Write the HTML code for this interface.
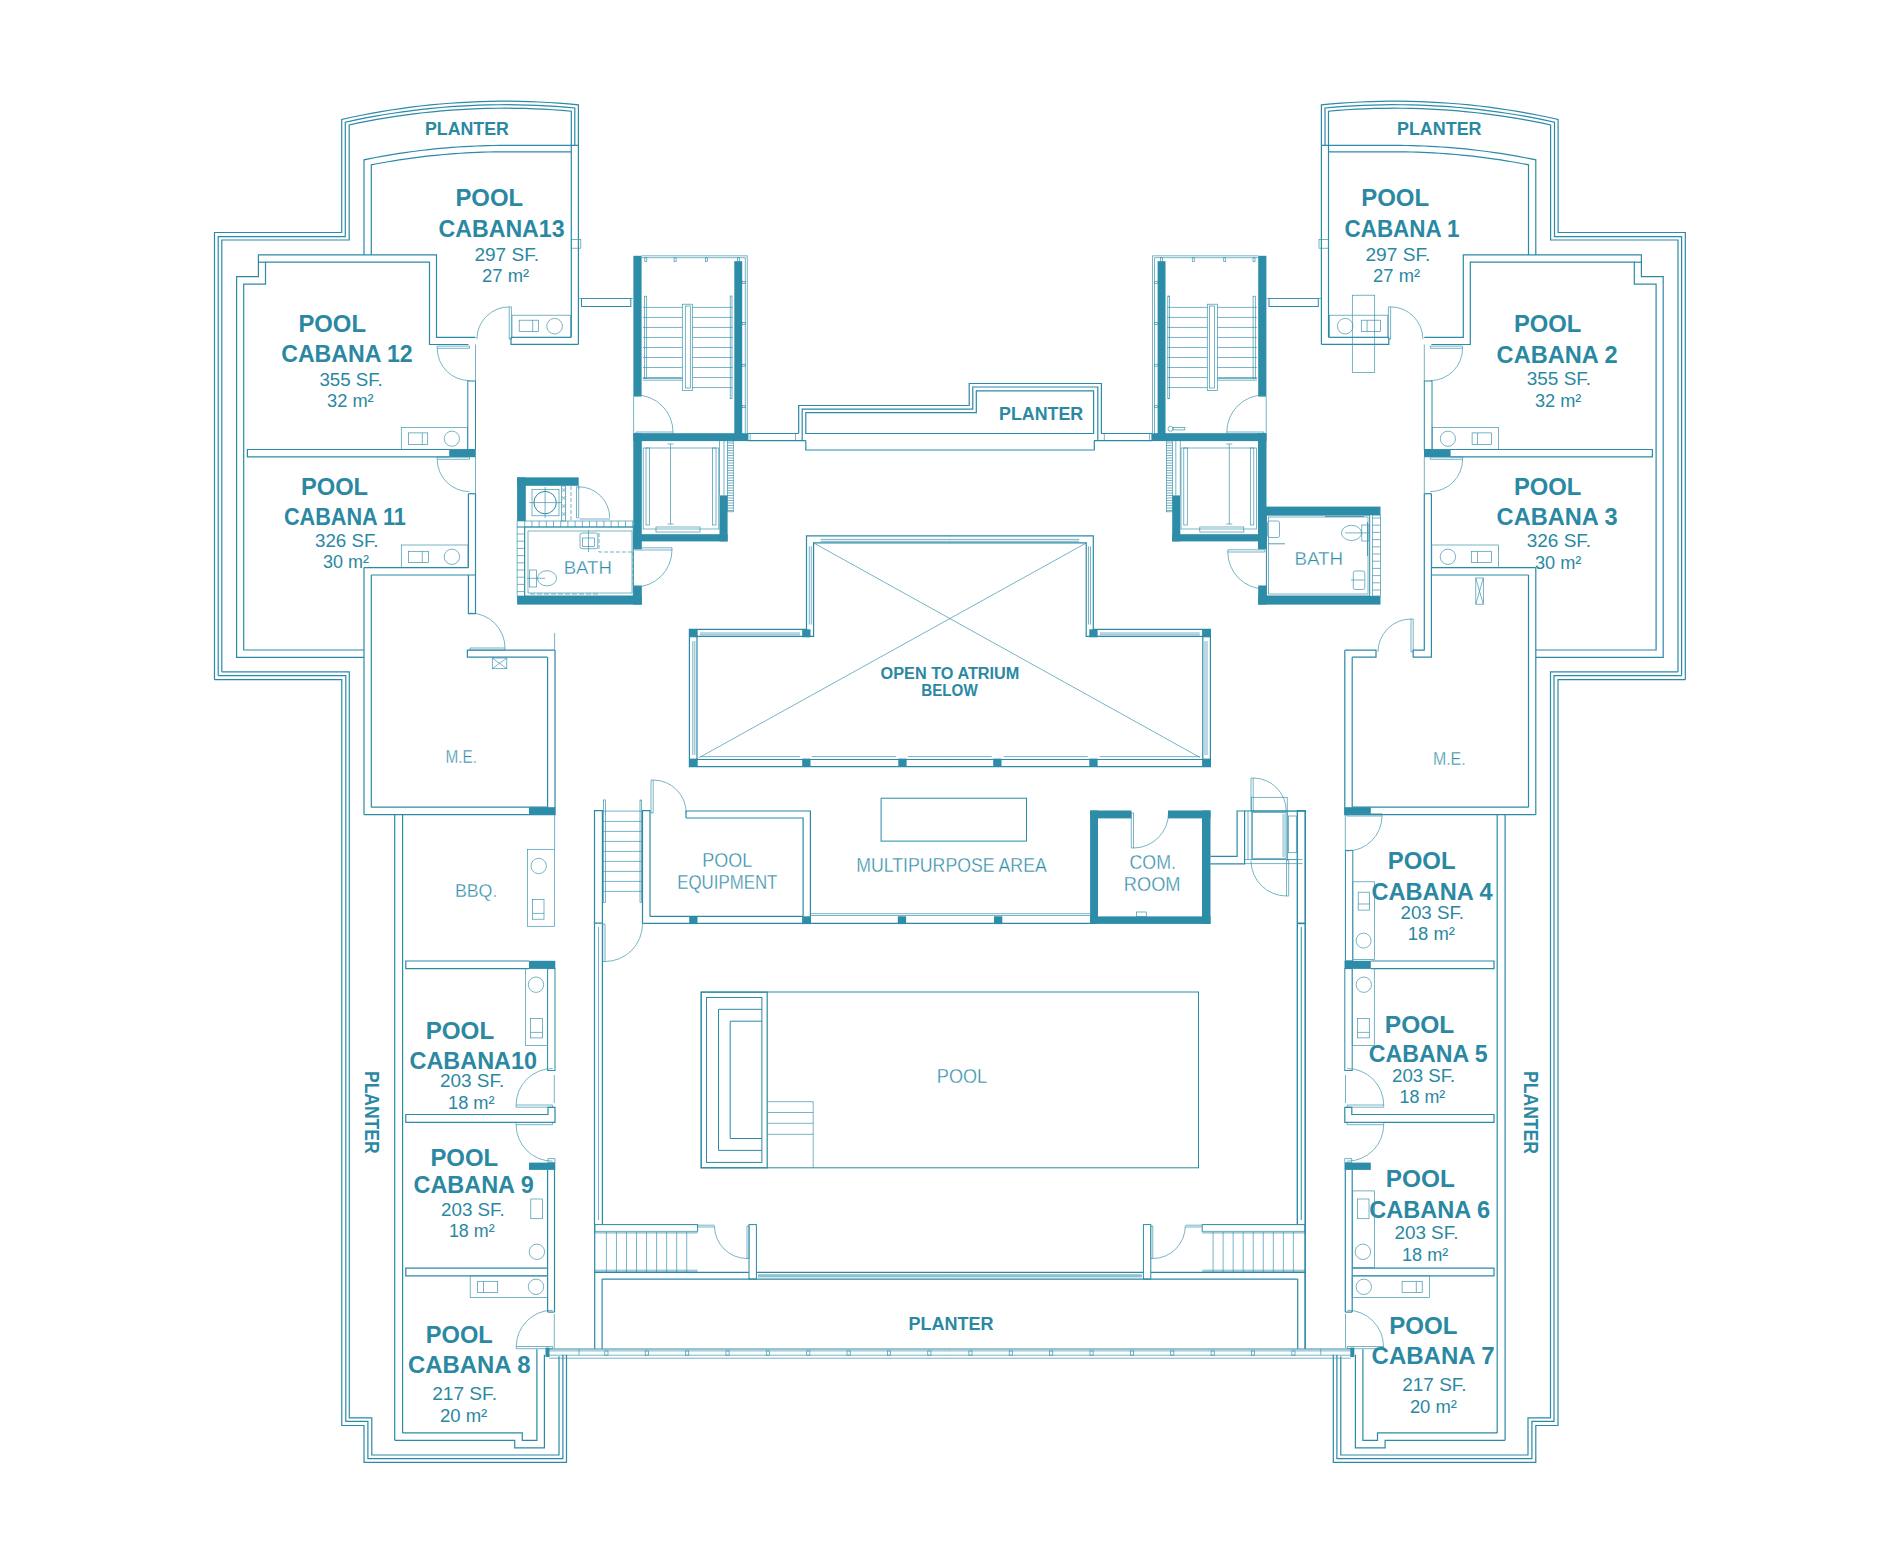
<!DOCTYPE html>
<html><head><meta charset="utf-8"><style>
html,body{margin:0;padding:0;background:#fff;}
svg{display:block;}
.s{fill:none;stroke:#2b8aa6;stroke-width:1.2;}
.m{fill:none;stroke:#2b8aa6;stroke-width:1.0;}
.t{fill:none;stroke:#3d94ad;stroke-width:0.7;}
.t2{fill:none;stroke:#3d94ad;stroke-width:0.9;}
.f{fill:#2d8ca8;stroke:none;}
.fs{fill:#2d8ca8;stroke:#2b8aa6;stroke-width:0.5;}
.b{font-family:"Liberation Sans",sans-serif;font-weight:bold;fill:#2a88a3;}
.r{font-family:"Liberation Sans",sans-serif;fill:#2a88a3;}
.l{font-family:"Liberation Sans",sans-serif;fill:#5aa3ba;}
.lb{font-family:"Liberation Sans",sans-serif;font-weight:bold;fill:#2a88a3;}
.b24{font-family:"Liberation Sans",sans-serif;font-weight:bold;fill:#2a88a3;font-size:24px;}
.b18{font-family:"Liberation Sans",sans-serif;font-weight:bold;fill:#2a88a3;font-size:18px;}
.r17{font-family:"Liberation Sans",sans-serif;fill:#2a88a3;font-size:17.5px;}
.l18{font-family:"Liberation Sans",sans-serif;fill:#2f8ca8;font-size:18.5px;stroke:#fff;stroke-width:0.35px;}
.b16{font-family:"Liberation Sans",sans-serif;font-weight:bold;fill:#2a88a3;font-size:16.8px;}
.l19{font-family:"Liberation Sans",sans-serif;fill:#2f8ca8;font-size:19.5px;stroke:#fff;stroke-width:0.35px;}
.b195{font-family:"Liberation Sans",sans-serif;font-weight:bold;fill:#2a88a3;font-size:19.5px;}
.b14{font-family:"Liberation Sans",sans-serif;font-weight:bold;fill:#2a88a3;font-size:14px;}
</style></head><body>
<svg width="1900" height="1541" viewBox="0 0 1900 1541">
<rect x="0" y="0" width="1900" height="1541" fill="#fff"/>
<g><polyline points="214.5,679.7 214.5,232.5 341.7,232.5 341.7,119.39 351.56,117.24 361.43,115.22 371.29,113.35 381.15,111.61 391.01,110.01 400.88,108.54 410.74,107.21 420.6,106.02 430.46,104.95 440.32,104.02 450.19,103.23 460.05,102.56 469.91,102.03 479.77,101.63 489.64,101.36 499.5,101.22 509.36,101.21 519.22,101.34 529.09,101.59 538.95,101.98 548.81,102.49 558.67,103.14 568.54,103.93 578.4,104.84 578.4,145.2" class="s"/><polyline points="218.2,675.7 218.2,236.6 345.3,236.6 345.3,122.17 354.86,120.12 364.43,118.2 373.99,116.41 383.55,114.75 393.11,113.23 402.68,111.82 412.24,110.55 421.8,109.4 431.36,108.38 440.93,107.48 450.49,106.71 460.05,106.07 469.61,105.55 479.17,105.15 488.74,104.88 498.3,104.73 507.86,104.71 517.42,104.8 526.99,105.03 536.55,105.37 546.11,105.85 555.67,106.44 565.24,107.16 574.8,108.01 574.8,145.2" class="s"/><polyline points="221.8,671.8 221.8,240 349.2,240 349.2,124.9 358.45,122.96 367.71,121.14 376.96,119.44 386.22,117.86 395.47,116.41 404.72,115.07 413.98,113.86 423.23,112.76 432.49,111.79 441.74,110.93 451.0,110.19 460.25,109.56 469.5,109.06 478.76,108.67 488.01,108.4 497.27,108.24 506.52,108.2 515.77,108.28 525.03,108.47 534.28,108.78 543.54,109.21 552.79,109.76 562.05,110.42 571.3,111.2 571.3,145.2" class="s"/><polyline points="221.8,671.8 349.3,671.8 349.3,1417.9 371.8,1417.9 371.8,1455 559,1455 559,1356.3" class="s"/><polyline points="218.2,675.7 345.8,675.7 345.8,1421.4 367.9,1421.4 367.9,1458.6 562.9,1458.6 562.9,1354.7" class="s"/><polyline points="214.5,679.7 341.8,679.7 341.8,1425.5 364,1425.5 364,1462.4 566.5,1462.4 566.5,1354.7" class="s"/><polyline points="364,255 364.0,159.79 369.88,158.61 375.75,157.47 381.62,156.39 387.5,155.36 393.38,154.39 399.25,153.46 405.12,152.58 411.0,151.76 416.88,150.99 422.75,150.26 428.62,149.59 434.5,148.97 440.38,148.4 446.25,147.88 452.12,147.41 458.0,146.98 463.88,146.61 469.75,146.29 475.62,146.02 481.5,145.8 487.38,145.62 493.25,145.5 499.12,145.42 505.0,145.4 578.4,145.4" class="s"/><polyline points="371.3,255 371.3,164.85 376.87,163.78 382.44,162.75 388.01,161.77 393.58,160.84 399.15,159.95 404.73,159.11 410.3,158.32 415.87,157.57 421.44,156.87 427.01,156.21 432.58,155.6 438.15,155.04 443.72,154.52 449.29,154.05 454.86,153.62 460.43,153.24 466.0,152.9 471.57,152.61 477.15,152.36 482.72,152.16 488.29,152.0 493.86,151.89 499.43,151.82 505.0,151.8 571.3,151.8" class="s"/><line x1="571.3" y1="145.2" x2="571.3" y2="337.3" class="s"/><line x1="578.4" y1="145.2" x2="578.4" y2="344.3" class="s"/><rect x="571.3" y="239.5" width="9.50" height="8.70" class="t"/><polyline points="511,337.3 571.3,337.3" class="s"/><polyline points="511,337.3 511,344.3 578.4,344.3" class="s"/><rect x="512" y="315.2" width="58.40" height="22.10" class="t"/><rect x="519.2" y="320.2" width="19.30" height="11.40" class="t"/><line x1="532.7" y1="320.2" x2="532.7" y2="331.6" class="t"/><circle cx="554.6" cy="326.2" r="7.8" class="t"/><path d="M509.20,306.90 A32.3,32.3 0 0 0 476.90,339.20" class="t"/><polygon points="509.20,339.20 509.20,306.90 511.40,306.90 511.40,339.20" class="t"/><rect x="581.5" y="298.5" width="49.30" height="8.00" class="m"/><line x1="578.4" y1="298.5" x2="633" y2="298.5" class="t"/><polyline points="364,657.4 236.6,657.4 236.6,276.6 258.4,276.6 258.4,254.9 436.5,254.9 436.5,337.4 475.5,337.4" class="s"/><polyline points="364,650 243.7,650 243.7,284.2 265.5,284.2 265.5,262.2 429.5,262.2 429.5,344.5 468.4,344.5" class="s"/><line x1="258.4" y1="262.2" x2="265.5" y2="262.2" class="s"/><rect x="401.3" y="427.4" width="66.30" height="22.10" class="t"/><rect x="408.4" y="432.9" width="19.30" height="11.50" class="t"/><line x1="422.3" y1="432.9" x2="422.3" y2="444.4" class="t"/><circle cx="451.9" cy="438.7" r="7.6" class="t"/><rect x="467.8" y="381" width="7.70" height="68.50" class="m"/><line x1="475.5" y1="344.5" x2="475.5" y2="381" class="t"/><polyline points="449.2,449.5 247.4,449.5 247.4,456.9 449.2,456.9" class="s"/><rect x="449.2" y="449.2" width="26.60" height="8.00" class="f"/><path d="M437.20,348.30 A32.3,32.3 0 0 0 469.50,380.60" class="t"/><polygon points="469.50,348.30 437.20,348.30 437.20,346.10 469.50,346.10" class="t"/><path d="M437.20,459.30 A32.3,32.3 0 0 0 469.50,491.60" class="t"/><polygon points="469.50,459.30 437.20,459.30 437.20,457.10 469.50,457.10" class="t"/><line x1="475.5" y1="457" x2="475.5" y2="493.7" class="t"/><polyline points="468.4,493.7 468.4,567.6" class="s"/><line x1="475.5" y1="493.7" x2="468.4" y2="493.7" class="s"/><line x1="475.5" y1="493.7" x2="475.5" y2="575" class="s"/><rect x="401.3" y="545" width="66.70" height="22.60" class="t"/><rect x="408.4" y="551.3" width="20.10" height="11.10" class="t"/><line x1="422.3" y1="551.3" x2="422.3" y2="562.4" class="t"/><circle cx="451.9" cy="556.8" r="7.7" class="t"/><line x1="364" y1="567.6" x2="468.4" y2="567.6" class="s"/><line x1="364" y1="567.6" x2="364" y2="814.7" class="s"/><line x1="371.3" y1="575" x2="371.3" y2="807.2" class="s"/><polyline points="371.3,807.2 547.6,807.2 547.6,657.2" class="s"/><polyline points="555,650.2 555,814.7 364,814.7" class="s"/><rect x="529" y="807.2" width="26.30" height="7.80" class="f"/><line x1="394.7" y1="814.7" x2="394.7" y2="1440.3" class="s"/><line x1="402.6" y1="814.7" x2="402.6" y2="1432.9" class="s"/><polyline points="529,961 405.8,961 405.8,968.6 529,968.6" class="s"/><rect x="529" y="960.8" width="26.30" height="8.00" class="f"/><rect x="547.6" y="968.6" width="7.40" height="101.90" class="m"/><rect x="525.5" y="968.6" width="22.10" height="76.90" class="t"/><circle cx="536" cy="984.7" r="7.7" class="t"/><rect x="530.5" y="1018.6" width="11.90" height="19.30" class="t"/><line x1="530.5" y1="1032.4" x2="542.4" y2="1032.4" class="t"/><path d="M516.10,1105.00 A36.5,36.5 0 0 1 552.60,1068.50" class="t"/><polygon points="552.60,1105.00 516.10,1105.00 516.10,1107.20 552.60,1107.20" class="t"/><line x1="554.3" y1="1075" x2="554.3" y2="1103" class="t"/><polygon points="405.8,1114.5 548,1114.5 548,1107.4 555,1107.4 555,1122.4 405.8,1122.4" class="s"/><path d="M516.10,1124.70 A36.5,36.5 0 0 0 552.60,1161.20" class="t"/><polygon points="552.60,1124.70 516.10,1124.70 516.10,1122.50 552.60,1122.50" class="t"/><rect x="529" y="1162.6" width="26.30" height="7.30" class="f"/><rect x="548" y="1158.7" width="7.00" height="3.90" class="t"/><line x1="547.6" y1="1169.7" x2="547.6" y2="1312.1" class="s"/><line x1="554.5" y1="1169.7" x2="554.5" y2="1312.1" class="s"/><line x1="547.6" y1="1312.1" x2="554.5" y2="1312.1" class="s"/><rect x="530.8" y="1199" width="11.60" height="19.70" class="t"/><circle cx="536.9" cy="1251.8" r="7.7" class="t"/><polyline points="547.6,1268.2 405.8,1268.2 405.8,1275.8 547.6,1275.8" class="s"/><rect x="470.2" y="1275.8" width="77.40" height="21.80" class="t"/><rect x="477.6" y="1281.3" width="20.10" height="11.10" class="t"/><line x1="483.5" y1="1281.3" x2="483.5" y2="1292.4" class="t"/><circle cx="536" cy="1286.8" r="7.7" class="t"/><path d="M516.30,1346.50 A36.3,36.3 0 0 1 552.60,1310.20" class="t"/><polygon points="552.60,1346.50 516.30,1346.50 516.30,1348.70 552.60,1348.70" class="t"/><line x1="554.3" y1="1314" x2="554.3" y2="1348" class="t"/><polyline points="402.6,1432.9 522.3,1432.9 522.3,1440.3 536.9,1440.3 536.9,1349.2" class="s"/><polyline points="394.7,1440.3 514.7,1440.3 514.7,1447.9 544.4,1447.9 544.4,1354.7" class="s"/><rect x="545.5" y="1347.6" width="4.00" height="9.40" class="f"/></g>
<g transform="matrix(-1,0,0,1,1899.8,0)"><polyline points="214.5,679.7 214.5,232.5 341.7,232.5 341.7,119.39 351.56,117.24 361.43,115.22 371.29,113.35 381.15,111.61 391.01,110.01 400.88,108.54 410.74,107.21 420.6,106.02 430.46,104.95 440.32,104.02 450.19,103.23 460.05,102.56 469.91,102.03 479.77,101.63 489.64,101.36 499.5,101.22 509.36,101.21 519.22,101.34 529.09,101.59 538.95,101.98 548.81,102.49 558.67,103.14 568.54,103.93 578.4,104.84 578.4,145.2" class="s"/><polyline points="218.2,675.7 218.2,236.6 345.3,236.6 345.3,122.17 354.86,120.12 364.43,118.2 373.99,116.41 383.55,114.75 393.11,113.23 402.68,111.82 412.24,110.55 421.8,109.4 431.36,108.38 440.93,107.48 450.49,106.71 460.05,106.07 469.61,105.55 479.17,105.15 488.74,104.88 498.3,104.73 507.86,104.71 517.42,104.8 526.99,105.03 536.55,105.37 546.11,105.85 555.67,106.44 565.24,107.16 574.8,108.01 574.8,145.2" class="s"/><polyline points="221.8,671.8 221.8,240 349.2,240 349.2,124.9 358.45,122.96 367.71,121.14 376.96,119.44 386.22,117.86 395.47,116.41 404.72,115.07 413.98,113.86 423.23,112.76 432.49,111.79 441.74,110.93 451.0,110.19 460.25,109.56 469.5,109.06 478.76,108.67 488.01,108.4 497.27,108.24 506.52,108.2 515.77,108.28 525.03,108.47 534.28,108.78 543.54,109.21 552.79,109.76 562.05,110.42 571.3,111.2 571.3,145.2" class="s"/><polyline points="221.8,671.8 349.3,671.8 349.3,1417.9 371.8,1417.9 371.8,1455 559,1455 559,1356.3" class="s"/><polyline points="218.2,675.7 345.8,675.7 345.8,1421.4 367.9,1421.4 367.9,1458.6 562.9,1458.6 562.9,1354.7" class="s"/><polyline points="214.5,679.7 341.8,679.7 341.8,1425.5 364,1425.5 364,1462.4 566.5,1462.4 566.5,1354.7" class="s"/><polyline points="364,255 364.0,159.79 369.88,158.61 375.75,157.47 381.62,156.39 387.5,155.36 393.38,154.39 399.25,153.46 405.12,152.58 411.0,151.76 416.88,150.99 422.75,150.26 428.62,149.59 434.5,148.97 440.38,148.4 446.25,147.88 452.12,147.41 458.0,146.98 463.88,146.61 469.75,146.29 475.62,146.02 481.5,145.8 487.38,145.62 493.25,145.5 499.12,145.42 505.0,145.4 578.4,145.4" class="s"/><polyline points="371.3,255 371.3,164.85 376.87,163.78 382.44,162.75 388.01,161.77 393.58,160.84 399.15,159.95 404.73,159.11 410.3,158.32 415.87,157.57 421.44,156.87 427.01,156.21 432.58,155.6 438.15,155.04 443.72,154.52 449.29,154.05 454.86,153.62 460.43,153.24 466.0,152.9 471.57,152.61 477.15,152.36 482.72,152.16 488.29,152.0 493.86,151.89 499.43,151.82 505.0,151.8 571.3,151.8" class="s"/><line x1="571.3" y1="145.2" x2="571.3" y2="337.3" class="s"/><line x1="578.4" y1="145.2" x2="578.4" y2="344.3" class="s"/><rect x="571.3" y="239.5" width="9.50" height="8.70" class="t"/><polyline points="511,337.3 571.3,337.3" class="s"/><polyline points="511,337.3 511,344.3 578.4,344.3" class="s"/><rect x="512" y="315.2" width="58.40" height="22.10" class="t"/><rect x="519.2" y="320.2" width="19.30" height="11.40" class="t"/><line x1="532.7" y1="320.2" x2="532.7" y2="331.6" class="t"/><circle cx="554.6" cy="326.2" r="7.8" class="t"/><path d="M509.20,306.90 A32.3,32.3 0 0 0 476.90,339.20" class="t"/><polygon points="509.20,339.20 509.20,306.90 511.40,306.90 511.40,339.20" class="t"/><rect x="581.5" y="298.5" width="49.30" height="8.00" class="m"/><line x1="578.4" y1="298.5" x2="633" y2="298.5" class="t"/><polyline points="364,657.4 236.6,657.4 236.6,276.6 258.4,276.6 258.4,254.9 436.5,254.9 436.5,337.4 475.5,337.4" class="s"/><polyline points="364,650 243.7,650 243.7,284.2 265.5,284.2 265.5,262.2 429.5,262.2 429.5,344.5 468.4,344.5" class="s"/><line x1="258.4" y1="262.2" x2="265.5" y2="262.2" class="s"/><rect x="401.3" y="427.4" width="66.30" height="22.10" class="t"/><rect x="408.4" y="432.9" width="19.30" height="11.50" class="t"/><line x1="422.3" y1="432.9" x2="422.3" y2="444.4" class="t"/><circle cx="451.9" cy="438.7" r="7.6" class="t"/><rect x="467.8" y="381" width="7.70" height="68.50" class="m"/><line x1="475.5" y1="344.5" x2="475.5" y2="381" class="t"/><polyline points="449.2,449.5 247.4,449.5 247.4,456.9 449.2,456.9" class="s"/><rect x="449.2" y="449.2" width="26.60" height="8.00" class="f"/><path d="M437.20,348.30 A32.3,32.3 0 0 0 469.50,380.60" class="t"/><polygon points="469.50,348.30 437.20,348.30 437.20,346.10 469.50,346.10" class="t"/><path d="M437.20,459.30 A32.3,32.3 0 0 0 469.50,491.60" class="t"/><polygon points="469.50,459.30 437.20,459.30 437.20,457.10 469.50,457.10" class="t"/><line x1="475.5" y1="457" x2="475.5" y2="493.7" class="t"/><polyline points="468.4,493.7 468.4,567.6" class="s"/><line x1="475.5" y1="493.7" x2="468.4" y2="493.7" class="s"/><line x1="475.5" y1="493.7" x2="475.5" y2="575" class="s"/><rect x="401.3" y="545" width="66.70" height="22.60" class="t"/><rect x="408.4" y="551.3" width="20.10" height="11.10" class="t"/><line x1="422.3" y1="551.3" x2="422.3" y2="562.4" class="t"/><circle cx="451.9" cy="556.8" r="7.7" class="t"/><line x1="364" y1="567.6" x2="468.4" y2="567.6" class="s"/><line x1="364" y1="567.6" x2="364" y2="814.7" class="s"/><line x1="371.3" y1="575" x2="371.3" y2="807.2" class="s"/><polyline points="371.3,807.2 547.6,807.2 547.6,657.2" class="s"/><polyline points="555,650.2 555,814.7 364,814.7" class="s"/><rect x="529" y="807.2" width="26.30" height="7.80" class="f"/><line x1="394.7" y1="814.7" x2="394.7" y2="1440.3" class="s"/><line x1="402.6" y1="814.7" x2="402.6" y2="1432.9" class="s"/><polyline points="529,961 405.8,961 405.8,968.6 529,968.6" class="s"/><rect x="529" y="960.8" width="26.30" height="8.00" class="f"/><rect x="547.6" y="968.6" width="7.40" height="101.90" class="m"/><rect x="525.5" y="968.6" width="22.10" height="76.90" class="t"/><circle cx="536" cy="984.7" r="7.7" class="t"/><rect x="530.5" y="1018.6" width="11.90" height="19.30" class="t"/><line x1="530.5" y1="1032.4" x2="542.4" y2="1032.4" class="t"/><path d="M516.10,1105.00 A36.5,36.5 0 0 1 552.60,1068.50" class="t"/><polygon points="552.60,1105.00 516.10,1105.00 516.10,1107.20 552.60,1107.20" class="t"/><line x1="554.3" y1="1075" x2="554.3" y2="1103" class="t"/><polygon points="405.8,1114.5 548,1114.5 548,1107.4 555,1107.4 555,1122.4 405.8,1122.4" class="s"/><path d="M516.10,1124.70 A36.5,36.5 0 0 0 552.60,1161.20" class="t"/><polygon points="552.60,1124.70 516.10,1124.70 516.10,1122.50 552.60,1122.50" class="t"/><rect x="529" y="1162.6" width="26.30" height="7.30" class="f"/><rect x="548" y="1158.7" width="7.00" height="3.90" class="t"/><line x1="547.6" y1="1169.7" x2="547.6" y2="1312.1" class="s"/><line x1="554.5" y1="1169.7" x2="554.5" y2="1312.1" class="s"/><line x1="547.6" y1="1312.1" x2="554.5" y2="1312.1" class="s"/><rect x="530.8" y="1199" width="11.60" height="19.70" class="t"/><circle cx="536.9" cy="1251.8" r="7.7" class="t"/><polyline points="547.6,1268.2 405.8,1268.2 405.8,1275.8 547.6,1275.8" class="s"/><rect x="470.2" y="1275.8" width="77.40" height="21.80" class="t"/><rect x="477.6" y="1281.3" width="20.10" height="11.10" class="t"/><line x1="483.5" y1="1281.3" x2="483.5" y2="1292.4" class="t"/><circle cx="536" cy="1286.8" r="7.7" class="t"/><path d="M516.30,1346.50 A36.3,36.3 0 0 1 552.60,1310.20" class="t"/><polygon points="552.60,1346.50 516.30,1346.50 516.30,1348.70 552.60,1348.70" class="t"/><line x1="554.3" y1="1314" x2="554.3" y2="1348" class="t"/><polyline points="402.6,1432.9 522.3,1432.9 522.3,1440.3 536.9,1440.3 536.9,1349.2" class="s"/><polyline points="394.7,1440.3 514.7,1440.3 514.7,1447.9 544.4,1447.9 544.4,1354.7" class="s"/><rect x="545.5" y="1347.6" width="4.00" height="9.40" class="f"/></g>
<g><rect x="633.4" y="255.8" width="8.20" height="140.80" class="f"/><rect x="734.3" y="261.2" width="7.90" height="179.80" class="f"/><line x1="641.6" y1="255.8" x2="747.3" y2="255.8" class="t"/><line x1="641.6" y1="257.7" x2="745.3" y2="257.7" class="t"/><rect x="644.8" y="257.7" width="2.00" height="3.80" class="t"/><rect x="674.1" y="257.7" width="2.00" height="3.80" class="t"/><rect x="705.5" y="257.7" width="2.00" height="3.80" class="t"/><rect x="737.4" y="257.7" width="2.00" height="3.80" class="t"/><line x1="745.3" y1="257.7" x2="745.3" y2="433" class="t"/><line x1="747.3" y1="255.8" x2="747.3" y2="433" class="t"/><rect x="742.2" y="281.3" width="3.10" height="2.00" class="t"/><rect x="742.2" y="322.4" width="3.10" height="2.00" class="t"/><rect x="742.2" y="364.2" width="3.10" height="2.00" class="t"/><rect x="742.2" y="405.7" width="3.10" height="2.00" class="t"/><line x1="692.5" y1="307.4" x2="732.7" y2="307.4" class="t"/><line x1="642.9" y1="307.4" x2="682.3" y2="307.4" class="t"/><line x1="692.5" y1="317.42" x2="732.7" y2="317.42" class="t"/><line x1="642.9" y1="317.42" x2="682.3" y2="317.42" class="t"/><line x1="692.5" y1="327.44" x2="732.7" y2="327.44" class="t"/><line x1="642.9" y1="327.44" x2="682.3" y2="327.44" class="t"/><line x1="692.5" y1="337.46" x2="732.7" y2="337.46" class="t"/><line x1="642.9" y1="337.46" x2="682.3" y2="337.46" class="t"/><line x1="692.5" y1="347.48" x2="732.7" y2="347.48" class="t"/><line x1="642.9" y1="347.48" x2="682.3" y2="347.48" class="t"/><line x1="692.5" y1="357.5" x2="732.7" y2="357.5" class="t"/><line x1="642.9" y1="357.5" x2="682.3" y2="357.5" class="t"/><line x1="692.5" y1="367.52" x2="732.7" y2="367.52" class="t"/><line x1="642.9" y1="367.52" x2="682.3" y2="367.52" class="t"/><line x1="692.5" y1="377.54" x2="732.7" y2="377.54" class="t"/><line x1="642.9" y1="377.54" x2="682.3" y2="377.54" class="t"/><line x1="692.5" y1="387.56" x2="732.7" y2="387.56" class="t"/><rect x="682.3" y="304.2" width="10.20" height="86.30" class="t"/><rect x="685.3" y="306" width="5.00" height="82.00" class="t"/><rect x="644.5" y="296.2" width="2.20" height="82.30" class="t"/><rect x="730.2" y="296" width="1.80" height="102.70" class="t"/><line x1="642.9" y1="378.5" x2="682.3" y2="378.5" class="t"/><line x1="642.9" y1="380.2" x2="682.3" y2="380.2" class="t"/><path d="M673.00,432.00 A37,37 0 0 0 636.00,395.00" class="t"/><polygon points="636.00,432.00 673.00,432.00 673.00,434.20 636.00,434.20" class="t"/><line x1="633.6" y1="396.6" x2="633.6" y2="433" class="t"/><rect x="633.3" y="433.2" width="115.10" height="7.90" class="f"/><rect x="633.3" y="433.2" width="8.50" height="116.10" class="f"/><rect x="633.3" y="534.2" width="94.30" height="7.20" class="f"/><rect x="719.5" y="495.4" width="8.10" height="46.00" class="f"/><line x1="719.5" y1="441" x2="719.5" y2="495.4" class="t"/><line x1="724" y1="441" x2="724" y2="495.4" class="t"/><rect x="727.4" y="441" width="5.90" height="70.80" class="t"/><line x1="727.4" y1="443.0" x2="733.3" y2="443.0" class="t"/><line x1="727.4" y1="445.5" x2="733.3" y2="445.5" class="t"/><line x1="727.4" y1="448.0" x2="733.3" y2="448.0" class="t"/><line x1="727.4" y1="450.5" x2="733.3" y2="450.5" class="t"/><line x1="727.4" y1="453.0" x2="733.3" y2="453.0" class="t"/><line x1="727.4" y1="455.5" x2="733.3" y2="455.5" class="t"/><line x1="727.4" y1="458.0" x2="733.3" y2="458.0" class="t"/><line x1="727.4" y1="460.5" x2="733.3" y2="460.5" class="t"/><line x1="727.4" y1="463.0" x2="733.3" y2="463.0" class="t"/><line x1="727.4" y1="465.5" x2="733.3" y2="465.5" class="t"/><line x1="727.4" y1="468.0" x2="733.3" y2="468.0" class="t"/><line x1="727.4" y1="470.5" x2="733.3" y2="470.5" class="t"/><line x1="727.4" y1="473.0" x2="733.3" y2="473.0" class="t"/><line x1="727.4" y1="475.5" x2="733.3" y2="475.5" class="t"/><line x1="727.4" y1="478.0" x2="733.3" y2="478.0" class="t"/><line x1="727.4" y1="480.5" x2="733.3" y2="480.5" class="t"/><line x1="727.4" y1="483.0" x2="733.3" y2="483.0" class="t"/><line x1="727.4" y1="485.5" x2="733.3" y2="485.5" class="t"/><line x1="727.4" y1="488.0" x2="733.3" y2="488.0" class="t"/><line x1="727.4" y1="490.5" x2="733.3" y2="490.5" class="t"/><line x1="727.4" y1="493.0" x2="733.3" y2="493.0" class="t"/><line x1="727.4" y1="495.5" x2="733.3" y2="495.5" class="t"/><line x1="727.4" y1="498.0" x2="733.3" y2="498.0" class="t"/><line x1="727.4" y1="500.5" x2="733.3" y2="500.5" class="t"/><line x1="727.4" y1="503.0" x2="733.3" y2="503.0" class="t"/><line x1="727.4" y1="505.5" x2="733.3" y2="505.5" class="t"/><line x1="727.4" y1="508.0" x2="733.3" y2="508.0" class="t"/><line x1="727.4" y1="510.5" x2="733.3" y2="510.5" class="t"/><rect x="643.2" y="448" width="75.60" height="81.00" class="t"/><line x1="670.5" y1="444" x2="670.5" y2="524" class="t"/><line x1="667.5" y1="444" x2="673.5" y2="444" class="t"/><line x1="667.5" y1="524" x2="673.5" y2="524" class="t"/><rect x="646" y="448" width="3.50" height="77.00" class="t"/><rect x="712.5" y="448" width="3.50" height="77.00" class="t"/><rect x="656" y="527" width="44.00" height="5.00" class="t"/><line x1="747.8" y1="433.5" x2="798.7" y2="433.5" class="s"/><line x1="747.8" y1="440.6" x2="805.8" y2="440.6" class="s"/><line x1="750.2" y1="433.5" x2="750.2" y2="440.6" class="t"/><line x1="795.5" y1="433.5" x2="795.5" y2="440.6" class="t"/><rect x="594.7" y="1224.6" width="102.90" height="6.80" class="m"/><rect x="594.7" y="1231.4" width="102.9" height="2.2" fill="#9fcad7"/><rect x="594.7" y="1269.6" width="102.9" height="2.4" fill="#9fcad7"/><line x1="606.4" y1="1232" x2="606.4" y2="1272" class="t"/><line x1="616.44" y1="1232" x2="616.44" y2="1272" class="t"/><line x1="626.48" y1="1232" x2="626.48" y2="1272" class="t"/><line x1="636.52" y1="1232" x2="636.52" y2="1272" class="t"/><line x1="646.56" y1="1232" x2="646.56" y2="1272" class="t"/><line x1="656.6" y1="1232" x2="656.6" y2="1272" class="t"/><line x1="666.64" y1="1232" x2="666.64" y2="1272" class="t"/><line x1="676.68" y1="1232" x2="676.68" y2="1272" class="t"/><line x1="686.72" y1="1232" x2="686.72" y2="1272" class="t"/><line x1="594.7" y1="1272.3" x2="749" y2="1272.3" class="s"/><path d="M747.00,1258.50 A32.5,32.5 0 0 1 714.50,1226.00" class="t"/><polygon points="747.00,1226.00 747.00,1258.50 749.20,1258.50 749.20,1226.00" class="t"/><line x1="698" y1="1225.2" x2="714.5" y2="1225.2" class="t"/><line x1="698" y1="1227" x2="714.5" y2="1227" class="t"/><rect x="749" y="1224.6" width="7.40" height="54.50" class="m"/><line x1="756.4" y1="1272.3" x2="950" y2="1272.3" class="s"/><line x1="602.1" y1="1279.1" x2="950" y2="1279.1" class="s"/><rect x="758" y="1274.2" width="192" height="3.2" fill="#8fc1d0"/><line x1="602.1" y1="1279.1" x2="602.1" y2="1348.8" class="s"/><line x1="594.7" y1="1224.6" x2="594.7" y2="1348.8" class="s"/><polygon points="594.5,810.7 602.4,810.7 602.4,923.2 594.5,923.2" class="s"/><line x1="602.4" y1="923.4" x2="602.4" y2="1224.6" class="s"/><line x1="598.5" y1="927" x2="598.5" y2="1220" class="t"/><line x1="594.5" y1="923.2" x2="594.5" y2="1224.6" class="s"/><line x1="549" y1="1349.0" x2="950" y2="1349.0" class="m"/><line x1="549" y1="1350.9" x2="950" y2="1350.9" class="t"/><line x1="549" y1="1355.2" x2="950" y2="1355.2" class="t"/><line x1="549" y1="1358.2" x2="950" y2="1358.2" class="t"/><rect x="604.8" y="1350.9" width="3.20" height="4.30" class="t"/><rect x="645.17" y="1350.9" width="3.20" height="4.30" class="t"/><rect x="685.54" y="1350.9" width="3.20" height="4.30" class="t"/><rect x="725.91" y="1350.9" width="3.20" height="4.30" class="t"/><rect x="766.28" y="1350.9" width="3.20" height="4.30" class="t"/><rect x="806.65" y="1350.9" width="3.20" height="4.30" class="t"/><rect x="847.02" y="1350.9" width="3.20" height="4.30" class="t"/><rect x="887.39" y="1350.9" width="3.20" height="4.30" class="t"/><rect x="927.76" y="1350.9" width="3.20" height="4.30" class="t"/><line x1="579" y1="1349" x2="579" y2="1355.2" class="t"/><polyline points="950,535.8 806.5,535.8 806.5,629.3 689.4,629.3 689.4,766.6 950,766.6" class="s"/><polyline points="950,542.9 813.6,542.9 813.6,636.4 697,636.4 697,759.5 950,759.5" class="s"/><rect x="689.4" y="629.3" width="8.30" height="8.00" class="f"/><rect x="802.2" y="629.3" width="8.30" height="8.00" class="f"/><rect x="689.4" y="758.6" width="8.30" height="8.00" class="f"/><rect x="802.2" y="758.6" width="8.30" height="8.00" class="f"/><rect x="898.3" y="758.6" width="8.30" height="8.00" class="f"/><line x1="820.7" y1="539.4" x2="950" y2="539.4" class="t"/><line x1="820.7" y1="541.3" x2="950" y2="541.3" class="t"/><line x1="809.3" y1="546.3" x2="809.3" y2="624.5" class="t"/><line x1="811.3" y1="546.3" x2="811.3" y2="624.5" class="t"/><line x1="692.8" y1="641" x2="692.8" y2="755" class="t"/><line x1="694.8" y1="641" x2="694.8" y2="755" class="t"/><line x1="700" y1="633" x2="800" y2="633" class="t"/><line x1="700" y1="634.8" x2="800" y2="634.8" class="t"/><line x1="700" y1="756.6" x2="800" y2="756.6" class="t"/><line x1="812" y1="756.6" x2="896" y2="756.6" class="t"/><line x1="908" y1="756.6" x2="950" y2="756.6" class="t"/></g>
<g transform="matrix(-1,0,0,1,1899.8,0)"><rect x="633.4" y="255.8" width="8.20" height="140.80" class="f"/><rect x="734.3" y="261.2" width="7.90" height="179.80" class="f"/><line x1="641.6" y1="255.8" x2="747.3" y2="255.8" class="t"/><line x1="641.6" y1="257.7" x2="745.3" y2="257.7" class="t"/><rect x="644.8" y="257.7" width="2.00" height="3.80" class="t"/><rect x="674.1" y="257.7" width="2.00" height="3.80" class="t"/><rect x="705.5" y="257.7" width="2.00" height="3.80" class="t"/><rect x="737.4" y="257.7" width="2.00" height="3.80" class="t"/><line x1="745.3" y1="257.7" x2="745.3" y2="433" class="t"/><line x1="747.3" y1="255.8" x2="747.3" y2="433" class="t"/><rect x="742.2" y="281.3" width="3.10" height="2.00" class="t"/><rect x="742.2" y="322.4" width="3.10" height="2.00" class="t"/><rect x="742.2" y="364.2" width="3.10" height="2.00" class="t"/><rect x="742.2" y="405.7" width="3.10" height="2.00" class="t"/><line x1="692.5" y1="307.4" x2="732.7" y2="307.4" class="t"/><line x1="642.9" y1="307.4" x2="682.3" y2="307.4" class="t"/><line x1="692.5" y1="317.42" x2="732.7" y2="317.42" class="t"/><line x1="642.9" y1="317.42" x2="682.3" y2="317.42" class="t"/><line x1="692.5" y1="327.44" x2="732.7" y2="327.44" class="t"/><line x1="642.9" y1="327.44" x2="682.3" y2="327.44" class="t"/><line x1="692.5" y1="337.46" x2="732.7" y2="337.46" class="t"/><line x1="642.9" y1="337.46" x2="682.3" y2="337.46" class="t"/><line x1="692.5" y1="347.48" x2="732.7" y2="347.48" class="t"/><line x1="642.9" y1="347.48" x2="682.3" y2="347.48" class="t"/><line x1="692.5" y1="357.5" x2="732.7" y2="357.5" class="t"/><line x1="642.9" y1="357.5" x2="682.3" y2="357.5" class="t"/><line x1="692.5" y1="367.52" x2="732.7" y2="367.52" class="t"/><line x1="642.9" y1="367.52" x2="682.3" y2="367.52" class="t"/><line x1="692.5" y1="377.54" x2="732.7" y2="377.54" class="t"/><line x1="642.9" y1="377.54" x2="682.3" y2="377.54" class="t"/><line x1="692.5" y1="387.56" x2="732.7" y2="387.56" class="t"/><rect x="682.3" y="304.2" width="10.20" height="86.30" class="t"/><rect x="685.3" y="306" width="5.00" height="82.00" class="t"/><rect x="644.5" y="296.2" width="2.20" height="82.30" class="t"/><rect x="730.2" y="296" width="1.80" height="102.70" class="t"/><line x1="642.9" y1="378.5" x2="682.3" y2="378.5" class="t"/><line x1="642.9" y1="380.2" x2="682.3" y2="380.2" class="t"/><path d="M673.00,432.00 A37,37 0 0 0 636.00,395.00" class="t"/><polygon points="636.00,432.00 673.00,432.00 673.00,434.20 636.00,434.20" class="t"/><line x1="633.6" y1="396.6" x2="633.6" y2="433" class="t"/><rect x="633.3" y="433.2" width="115.10" height="7.90" class="f"/><rect x="633.3" y="433.2" width="8.50" height="116.10" class="f"/><rect x="633.3" y="534.2" width="94.30" height="7.20" class="f"/><rect x="719.5" y="495.4" width="8.10" height="46.00" class="f"/><line x1="719.5" y1="441" x2="719.5" y2="495.4" class="t"/><line x1="724" y1="441" x2="724" y2="495.4" class="t"/><rect x="727.4" y="441" width="5.90" height="70.80" class="t"/><line x1="727.4" y1="443.0" x2="733.3" y2="443.0" class="t"/><line x1="727.4" y1="445.5" x2="733.3" y2="445.5" class="t"/><line x1="727.4" y1="448.0" x2="733.3" y2="448.0" class="t"/><line x1="727.4" y1="450.5" x2="733.3" y2="450.5" class="t"/><line x1="727.4" y1="453.0" x2="733.3" y2="453.0" class="t"/><line x1="727.4" y1="455.5" x2="733.3" y2="455.5" class="t"/><line x1="727.4" y1="458.0" x2="733.3" y2="458.0" class="t"/><line x1="727.4" y1="460.5" x2="733.3" y2="460.5" class="t"/><line x1="727.4" y1="463.0" x2="733.3" y2="463.0" class="t"/><line x1="727.4" y1="465.5" x2="733.3" y2="465.5" class="t"/><line x1="727.4" y1="468.0" x2="733.3" y2="468.0" class="t"/><line x1="727.4" y1="470.5" x2="733.3" y2="470.5" class="t"/><line x1="727.4" y1="473.0" x2="733.3" y2="473.0" class="t"/><line x1="727.4" y1="475.5" x2="733.3" y2="475.5" class="t"/><line x1="727.4" y1="478.0" x2="733.3" y2="478.0" class="t"/><line x1="727.4" y1="480.5" x2="733.3" y2="480.5" class="t"/><line x1="727.4" y1="483.0" x2="733.3" y2="483.0" class="t"/><line x1="727.4" y1="485.5" x2="733.3" y2="485.5" class="t"/><line x1="727.4" y1="488.0" x2="733.3" y2="488.0" class="t"/><line x1="727.4" y1="490.5" x2="733.3" y2="490.5" class="t"/><line x1="727.4" y1="493.0" x2="733.3" y2="493.0" class="t"/><line x1="727.4" y1="495.5" x2="733.3" y2="495.5" class="t"/><line x1="727.4" y1="498.0" x2="733.3" y2="498.0" class="t"/><line x1="727.4" y1="500.5" x2="733.3" y2="500.5" class="t"/><line x1="727.4" y1="503.0" x2="733.3" y2="503.0" class="t"/><line x1="727.4" y1="505.5" x2="733.3" y2="505.5" class="t"/><line x1="727.4" y1="508.0" x2="733.3" y2="508.0" class="t"/><line x1="727.4" y1="510.5" x2="733.3" y2="510.5" class="t"/><rect x="643.2" y="448" width="75.60" height="81.00" class="t"/><line x1="670.5" y1="444" x2="670.5" y2="524" class="t"/><line x1="667.5" y1="444" x2="673.5" y2="444" class="t"/><line x1="667.5" y1="524" x2="673.5" y2="524" class="t"/><rect x="646" y="448" width="3.50" height="77.00" class="t"/><rect x="712.5" y="448" width="3.50" height="77.00" class="t"/><rect x="656" y="527" width="44.00" height="5.00" class="t"/><line x1="747.8" y1="433.5" x2="798.7" y2="433.5" class="s"/><line x1="747.8" y1="440.6" x2="805.8" y2="440.6" class="s"/><line x1="750.2" y1="433.5" x2="750.2" y2="440.6" class="t"/><line x1="795.5" y1="433.5" x2="795.5" y2="440.6" class="t"/><rect x="594.7" y="1224.6" width="102.90" height="6.80" class="m"/><rect x="594.7" y="1231.4" width="102.9" height="2.2" fill="#9fcad7"/><rect x="594.7" y="1269.6" width="102.9" height="2.4" fill="#9fcad7"/><line x1="606.4" y1="1232" x2="606.4" y2="1272" class="t"/><line x1="616.44" y1="1232" x2="616.44" y2="1272" class="t"/><line x1="626.48" y1="1232" x2="626.48" y2="1272" class="t"/><line x1="636.52" y1="1232" x2="636.52" y2="1272" class="t"/><line x1="646.56" y1="1232" x2="646.56" y2="1272" class="t"/><line x1="656.6" y1="1232" x2="656.6" y2="1272" class="t"/><line x1="666.64" y1="1232" x2="666.64" y2="1272" class="t"/><line x1="676.68" y1="1232" x2="676.68" y2="1272" class="t"/><line x1="686.72" y1="1232" x2="686.72" y2="1272" class="t"/><line x1="594.7" y1="1272.3" x2="749" y2="1272.3" class="s"/><path d="M747.00,1258.50 A32.5,32.5 0 0 1 714.50,1226.00" class="t"/><polygon points="747.00,1226.00 747.00,1258.50 749.20,1258.50 749.20,1226.00" class="t"/><line x1="698" y1="1225.2" x2="714.5" y2="1225.2" class="t"/><line x1="698" y1="1227" x2="714.5" y2="1227" class="t"/><rect x="749" y="1224.6" width="7.40" height="54.50" class="m"/><line x1="756.4" y1="1272.3" x2="950" y2="1272.3" class="s"/><line x1="602.1" y1="1279.1" x2="950" y2="1279.1" class="s"/><rect x="758" y="1274.2" width="192" height="3.2" fill="#8fc1d0"/><line x1="602.1" y1="1279.1" x2="602.1" y2="1348.8" class="s"/><line x1="594.7" y1="1224.6" x2="594.7" y2="1348.8" class="s"/><polygon points="594.5,810.7 602.4,810.7 602.4,923.2 594.5,923.2" class="s"/><line x1="602.4" y1="923.4" x2="602.4" y2="1224.6" class="s"/><line x1="598.5" y1="927" x2="598.5" y2="1220" class="t"/><line x1="594.5" y1="923.2" x2="594.5" y2="1224.6" class="s"/><line x1="549" y1="1349.0" x2="950" y2="1349.0" class="m"/><line x1="549" y1="1350.9" x2="950" y2="1350.9" class="t"/><line x1="549" y1="1355.2" x2="950" y2="1355.2" class="t"/><line x1="549" y1="1358.2" x2="950" y2="1358.2" class="t"/><rect x="604.8" y="1350.9" width="3.20" height="4.30" class="t"/><rect x="645.17" y="1350.9" width="3.20" height="4.30" class="t"/><rect x="685.54" y="1350.9" width="3.20" height="4.30" class="t"/><rect x="725.91" y="1350.9" width="3.20" height="4.30" class="t"/><rect x="766.28" y="1350.9" width="3.20" height="4.30" class="t"/><rect x="806.65" y="1350.9" width="3.20" height="4.30" class="t"/><rect x="847.02" y="1350.9" width="3.20" height="4.30" class="t"/><rect x="887.39" y="1350.9" width="3.20" height="4.30" class="t"/><rect x="927.76" y="1350.9" width="3.20" height="4.30" class="t"/><line x1="579" y1="1349" x2="579" y2="1355.2" class="t"/><polyline points="950,535.8 806.5,535.8 806.5,629.3 689.4,629.3 689.4,766.6 950,766.6" class="s"/><polyline points="950,542.9 813.6,542.9 813.6,636.4 697,636.4 697,759.5 950,759.5" class="s"/><rect x="689.4" y="629.3" width="8.30" height="8.00" class="f"/><rect x="802.2" y="629.3" width="8.30" height="8.00" class="f"/><rect x="689.4" y="758.6" width="8.30" height="8.00" class="f"/><rect x="802.2" y="758.6" width="8.30" height="8.00" class="f"/><rect x="898.3" y="758.6" width="8.30" height="8.00" class="f"/><line x1="820.7" y1="539.4" x2="950" y2="539.4" class="t"/><line x1="820.7" y1="541.3" x2="950" y2="541.3" class="t"/><line x1="809.3" y1="546.3" x2="809.3" y2="624.5" class="t"/><line x1="811.3" y1="546.3" x2="811.3" y2="624.5" class="t"/><line x1="692.8" y1="641" x2="692.8" y2="755" class="t"/><line x1="694.8" y1="641" x2="694.8" y2="755" class="t"/><line x1="700" y1="633" x2="800" y2="633" class="t"/><line x1="700" y1="634.8" x2="800" y2="634.8" class="t"/><line x1="700" y1="756.6" x2="800" y2="756.6" class="t"/><line x1="812" y1="756.6" x2="896" y2="756.6" class="t"/><line x1="908" y1="756.6" x2="950" y2="756.6" class="t"/></g>
<polyline points="798.7,433.5 798.7,405.5 969.2,405.5 969.2,383.5 1101.4,383.5 1101.4,433.5" class="s"/>
<polyline points="802.2,440.6 802.2,409.1 972.8,409.1 972.8,387 1097.8,387 1097.8,440.6" class="s"/>
<polygon points="805.8,433.5 805.8,412.6 976.3,412.6 976.3,390.8 1093.6,390.8 1093.6,433.5" class="s"/>
<polyline points="805.8,440.6 805.8,450 1094.3,450 1094.3,440.6" class="s"/>
<line x1="813.6" y1="542.9" x2="1200.1" y2="757.5" class="t"/>
<line x1="1086.4" y1="542.9" x2="699.3" y2="757.5" class="t"/>
<line x1="602.8" y1="821.4" x2="642" y2="821.4" class="t"/>
<line x1="602.8" y1="831.4" x2="642" y2="831.4" class="t"/>
<line x1="602.8" y1="841.4" x2="642" y2="841.4" class="t"/>
<line x1="602.8" y1="851.4" x2="642" y2="851.4" class="t"/>
<line x1="602.8" y1="861.4" x2="642" y2="861.4" class="t"/>
<line x1="602.8" y1="871.4" x2="642" y2="871.4" class="t"/>
<line x1="602.8" y1="881.4" x2="642" y2="881.4" class="t"/>
<line x1="602.8" y1="891.4" x2="642" y2="891.4" class="t"/>
<line x1="602.8" y1="811.1" x2="642" y2="811.1" class="t"/>
<rect x="603.5" y="800" width="1.90" height="102.40" class="t"/>
<rect x="640" y="800" width="1.60" height="102.40" class="t"/>
<polyline points="642.5,923.4 642.5,810.7 650,810.7 650,916.3" class="s"/>
<line x1="642.5" y1="923.4" x2="1090.1" y2="923.4" class="s"/>
<line x1="650" y1="916.3" x2="803.1" y2="916.3" class="s"/>
<path d="M605.00,961.50 A37.5,37.5 0 0 0 642.50,924.00" class="t"/>
<polygon points="605.00,924.00 605.00,961.50 602.80,961.50 602.80,924.00" class="t"/>
<polyline points="686,811 810.4,811 810.4,923.4" class="s"/>
<polyline points="686,818 803.1,818 803.1,916.3" class="s"/>
<line x1="686" y1="811" x2="686" y2="818" class="s"/>
<path d="M653.20,780.00 A33,33 0 0 1 686.20,813.00" class="t"/>
<polygon points="653.20,813.00 653.20,780.00 651.00,780.00 651.00,813.00" class="t"/>
<rect x="689.2" y="916.3" width="8.30" height="7.80" class="f"/>
<rect x="802.1" y="916.3" width="8.30" height="7.80" class="f"/>
<rect x="897.8" y="916.3" width="8.30" height="7.80" class="f"/>
<rect x="994" y="916.3" width="8.30" height="7.80" class="f"/>
<line x1="810.4" y1="913.7" x2="1090.1" y2="913.7" class="t"/>
<line x1="810.4" y1="915.5" x2="1090.1" y2="915.5" class="t"/>
<rect x="881.1" y="798.2" width="145.40" height="42.90" class="m"/>
<rect x="1090.1" y="810.5" width="41.40" height="7.90" class="f"/>
<rect x="1168" y="810.5" width="42.50" height="7.90" class="f"/>
<rect x="1090.1" y="810.5" width="7.90" height="113.40" class="f"/>
<rect x="1202" y="810.5" width="8.50" height="113.40" class="f"/>
<rect x="1090.1" y="916.4" width="120.40" height="7.50" class="f"/>
<path d="M1133.50,848.00 A35,35 0 0 0 1168.50,813.00" class="t"/>
<polygon points="1133.50,813.00 1133.50,848.00 1131.30,848.00 1131.30,813.00" class="t"/>
<rect x="1136.4" y="912" width="9.90" height="4.40" class="t"/>
<polyline points="1210.5,856.4 1237.1,856.4 1237.1,811 1244.6,811 1244.6,863.8 1210.5,863.8" class="s"/>
<line x1="1297.4" y1="811" x2="1297.4" y2="1224.6" class="s"/>
<line x1="1305.2" y1="811" x2="1305.2" y2="1348.8" class="s"/>
<line x1="1297.4" y1="811" x2="1305.2" y2="811" class="s"/>
<line x1="1297.4" y1="923.6" x2="1305.2" y2="923.6" class="s"/>
<line x1="1301.3" y1="927" x2="1301.3" y2="1220" class="t"/>
<rect x="701.2" y="992" width="497.30" height="175.80" class="m"/>
<rect x="701.2" y="992.2" width="66.00" height="175.60" class="s"/>
<rect x="706.5" y="997.5" width="55.40" height="164.90" class="m"/>
<polyline points="761.9,1009.3 718.5,1009.3 718.5,1150.4 761.9,1150.4" class="m"/>
<polyline points="761.9,1021.2 730.2,1021.2 730.2,1138.5 761.9,1138.5" class="m"/>
<polyline points="767.2,1101.7 813.2,1101.7 813.2,1167.8" class="t"/>
<line x1="767.2" y1="1112.5" x2="813.2" y2="1112.5" class="t"/>
<line x1="767.2" y1="1123.3" x2="813.2" y2="1123.3" class="t"/>
<line x1="767.2" y1="1134.3" x2="813.2" y2="1134.3" class="t"/>
<line x1="371.3" y1="575" x2="475.5" y2="575" class="s"/>
<polyline points="468.4,575 468.4,613.7 475.5,613.7 475.5,575" class="s"/>
<polyline points="547.6,657.2 467.4,657.2 467.4,650.2 555,650.2" class="s"/>
<line x1="554.6" y1="633" x2="554.6" y2="650.2" class="t"/>
<line x1="554.6" y1="814.7" x2="554.6" y2="849.3" class="t"/>
<path d="M505.00,648.00 A35,35 0 0 0 470.00,613.00" class="t"/>
<polygon points="470.00,648.00 505.00,648.00 505.00,650.20 470.00,650.20" class="t"/>
<rect x="492.3" y="658" width="14.50" height="10.70" class="t"/>
<line x1="492.3" y1="658" x2="506.8" y2="668.7" class="t"/>
<line x1="492.3" y1="668.7" x2="506.8" y2="658" class="t"/>
<rect x="527.4" y="849.3" width="27.10" height="77.00" class="t"/>
<circle cx="538.7" cy="866" r="7.7" class="t"/>
<rect x="532.4" y="899.5" width="11.60" height="19.70" class="t"/>
<line x1="532.4" y1="913.4" x2="544" y2="913.4" class="t"/>
<text x="425.00" y="134.8" textLength="83.80" lengthAdjust="spacingAndGlyphs" class="b18">PLANTER</text>
<text x="455.40" y="206" textLength="67.70" lengthAdjust="spacingAndGlyphs" class="b24">POOL</text>
<text x="438.50" y="237.1" textLength="126.10" lengthAdjust="spacingAndGlyphs" class="b24">CABANA13</text>
<text x="474.40" y="260.8" textLength="64.60" lengthAdjust="spacingAndGlyphs" class="r17">297 SF.</text>
<text x="482.10" y="282.1" textLength="47.00" lengthAdjust="spacingAndGlyphs" class="r17">27 m²</text>
<text x="298.40" y="331.8" textLength="67.60" lengthAdjust="spacingAndGlyphs" class="b24">POOL</text>
<text x="281.20" y="362.3" textLength="131.50" lengthAdjust="spacingAndGlyphs" class="b24">CABANA 12</text>
<text x="319.40" y="385.5" textLength="63.40" lengthAdjust="spacingAndGlyphs" class="r17">355 SF.</text>
<text x="327.10" y="406.8" textLength="46.60" lengthAdjust="spacingAndGlyphs" class="r17">32 m²</text>
<text x="300.90" y="495.3" textLength="67.20" lengthAdjust="spacingAndGlyphs" class="b24">POOL</text>
<text x="283.90" y="525.3" textLength="121.90" lengthAdjust="spacingAndGlyphs" class="b24">CABANA 11</text>
<text x="315.00" y="546.6" textLength="63.60" lengthAdjust="spacingAndGlyphs" class="r17">326 SF.</text>
<text x="323.00" y="568" textLength="46.00" lengthAdjust="spacingAndGlyphs" class="r17">30 m²</text>
<text x="425.70" y="1038.7" textLength="68.50" lengthAdjust="spacingAndGlyphs" class="b24">POOL</text>
<text x="409.50" y="1068.7" textLength="127.50" lengthAdjust="spacingAndGlyphs" class="b24">CABANA10</text>
<text x="439.90" y="1087.3" textLength="64.30" lengthAdjust="spacingAndGlyphs" class="r17">203 SF.</text>
<text x="448.00" y="1108.6" textLength="46.60" lengthAdjust="spacingAndGlyphs" class="r17">18 m²</text>
<text x="430.40" y="1165.8" textLength="67.80" lengthAdjust="spacingAndGlyphs" class="b24">POOL</text>
<text x="413.50" y="1192.6" textLength="120.20" lengthAdjust="spacingAndGlyphs" class="b24">CABANA 9</text>
<text x="441.00" y="1215.5" textLength="63.70" lengthAdjust="spacingAndGlyphs" class="r17">203 SF.</text>
<text x="448.90" y="1236.9" textLength="45.70" lengthAdjust="spacingAndGlyphs" class="r17">18 m²</text>
<text x="425.80" y="1342.9" textLength="67.00" lengthAdjust="spacingAndGlyphs" class="b24">POOL</text>
<text x="408.10" y="1372.9" textLength="122.50" lengthAdjust="spacingAndGlyphs" class="b24">CABANA 8</text>
<text x="432.20" y="1400.2" textLength="64.80" lengthAdjust="spacingAndGlyphs" class="r17">217 SF.</text>
<text x="439.90" y="1421.9" textLength="47.40" lengthAdjust="spacingAndGlyphs" class="r17">20 m²</text>
<text x="445.50" y="763.4" textLength="31.50" lengthAdjust="spacingAndGlyphs" class="l18">M.E.</text>
<text x="454.90" y="897.1" textLength="42.50" lengthAdjust="spacingAndGlyphs" class="l18">BBQ.</text>
<text transform="translate(364.9,1071) rotate(90)" x="0" y="0" textLength="82.6" lengthAdjust="spacingAndGlyphs" class="b195">PLANTER</text>
<text x="999.10" y="419.7" textLength="84.10" lengthAdjust="spacingAndGlyphs" class="b18">PLANTER</text>
<text x="880.60" y="679.3" textLength="138.80" lengthAdjust="spacingAndGlyphs" class="b16">OPEN TO ATRIUM</text>
<text x="921.30" y="695.5" textLength="56.40" lengthAdjust="spacingAndGlyphs" class="b16">BELOW</text>
<text x="702.20" y="866.7" textLength="50.00" lengthAdjust="spacingAndGlyphs" class="l19">POOL</text>
<text x="677.20" y="889" textLength="100.20" lengthAdjust="spacingAndGlyphs" class="l19">EQUIPMENT</text>
<text x="856.20" y="872.2" textLength="190.60" lengthAdjust="spacingAndGlyphs" class="l19">MULTIPURPOSE AREA</text>
<text x="1129.50" y="868.7" textLength="46.50" lengthAdjust="spacingAndGlyphs" class="l19">COM.</text>
<text x="1123.80" y="890.8" textLength="56.70" lengthAdjust="spacingAndGlyphs" class="l19">ROOM</text>
<text x="936.80" y="1082.5" textLength="50.40" lengthAdjust="spacingAndGlyphs" class="l19">POOL</text>
<text x="908.40" y="1329.8" textLength="85.10" lengthAdjust="spacingAndGlyphs" class="b18">PLANTER</text>
<text x="563.70" y="574.3" textLength="48.20" lengthAdjust="spacingAndGlyphs" class="l18">BATH</text>
<rect x="517.1" y="477.4" width="61.60" height="8.40" class="f"/>
<rect x="517.1" y="477.4" width="8.70" height="43.60" class="f"/>
<rect x="532" y="489.5" width="27.00" height="26.30" class="t"/>
<circle cx="545.1" cy="502.6" r="11.2" class="m"/>
<line x1="529" y1="502.6" x2="562" y2="502.6" class="t"/>
<line x1="545.1" y1="487" x2="545.1" y2="518" class="t"/>
<rect x="561.6" y="486" width="3.90" height="35.00" class="t"/>
<line x1="561.6" y1="488" x2="565.5" y2="492" class="t"/>
<line x1="565.5" y1="488" x2="561.6" y2="492" class="t"/>
<line x1="561.6" y1="496" x2="565.5" y2="500" class="t"/>
<line x1="565.5" y1="496" x2="561.6" y2="500" class="t"/>
<line x1="561.6" y1="504" x2="565.5" y2="508" class="t"/>
<line x1="565.5" y1="504" x2="561.6" y2="508" class="t"/>
<line x1="561.6" y1="512" x2="565.5" y2="516" class="t"/>
<line x1="565.5" y1="512" x2="561.6" y2="516" class="t"/>
<line x1="571" y1="486" x2="571" y2="521" class="t" stroke-dasharray="4,2"/>
<line x1="578.7" y1="485.8" x2="578.7" y2="489" class="t"/>
<path d="M578.70,486.80 A31,31 0 0 1 609.70,517.80" class="t"/>
<polygon points="578.70,517.80 578.70,486.80 576.50,486.80 576.50,517.80" class="t"/>
<line x1="579.5" y1="519" x2="610" y2="519" class="t"/>
<rect x="517.1" y="521" width="117.50" height="6.00" class="t"/>
<line x1="524.7" y1="521" x2="524.7" y2="527" class="t"/>
<line x1="531.9" y1="521" x2="531.9" y2="527" class="t"/>
<line x1="539.1" y1="521" x2="539.1" y2="527" class="t"/>
<line x1="546.3" y1="521" x2="546.3" y2="527" class="t"/>
<line x1="553.5" y1="521" x2="553.5" y2="527" class="t"/>
<line x1="560.7" y1="521" x2="560.7" y2="527" class="t"/>
<line x1="567.9" y1="521" x2="567.9" y2="527" class="t"/>
<line x1="575.1" y1="521" x2="575.1" y2="527" class="t"/>
<line x1="582.3" y1="521" x2="582.3" y2="527" class="t"/>
<line x1="589.5" y1="521" x2="589.5" y2="527" class="t"/>
<line x1="596.7" y1="521" x2="596.7" y2="527" class="t"/>
<line x1="603.9" y1="521" x2="603.9" y2="527" class="t"/>
<line x1="611.1" y1="521" x2="611.1" y2="527" class="t"/>
<line x1="618.3" y1="521" x2="618.3" y2="527" class="t"/>
<line x1="625.5" y1="521" x2="625.5" y2="527" class="t"/>
<line x1="632.7" y1="521" x2="632.7" y2="527" class="t"/>
<rect x="517.1" y="527" width="7.60" height="69.00" class="t"/>
<line x1="517.1" y1="534.0" x2="524.7" y2="534.0" class="t"/>
<line x1="517.1" y1="541.2" x2="524.7" y2="541.2" class="t"/>
<line x1="517.1" y1="548.4" x2="524.7" y2="548.4" class="t"/>
<line x1="517.1" y1="555.6" x2="524.7" y2="555.6" class="t"/>
<line x1="517.1" y1="562.8" x2="524.7" y2="562.8" class="t"/>
<line x1="517.1" y1="570.0" x2="524.7" y2="570.0" class="t"/>
<line x1="517.1" y1="577.2" x2="524.7" y2="577.2" class="t"/>
<line x1="517.1" y1="584.4" x2="524.7" y2="584.4" class="t"/>
<line x1="517.1" y1="591.6" x2="524.7" y2="591.6" class="t"/>
<line x1="517.1" y1="598.8" x2="524.7" y2="598.8" class="t"/>
<rect x="524.7" y="527" width="108.60" height="69.00" class="m"/>
<rect x="528" y="531" width="104.00" height="62.00" class="t"/>
<rect x="517.1" y="596" width="124.70" height="8.60" class="f"/>
<rect x="633.3" y="585.5" width="8.50" height="19.10" class="f"/>
<path d="M672.00,550.00 A37,37 0 0 1 635.00,587.00" class="t"/>
<polygon points="635.00,550.00 672.00,550.00 672.00,547.80 635.00,547.80" class="t"/>
<ellipse cx="547" cy="578.3" rx="9.5" ry="7.6" class="t"/>
<rect x="529.5" y="570" width="7.10" height="17.00" class="t"/>
<line x1="527" y1="578.3" x2="545" y2="578.3" class="t"/>
<rect x="580" y="533" width="17.8" height="15.7" rx="2" class="t"/>
<rect x="582.5" y="538" width="12.00" height="8.50" class="t"/>
<line x1="588.5" y1="530" x2="588.5" y2="552" class="t"/>
<path d="M599,533 L599,552 L632,552" class="t" stroke-dasharray="4,2"/>
<path d="M633,552 L633,585" class="t" stroke-dasharray="4,2"/>
<path d="M530,594 L600,594" class="t" stroke-dasharray="5,2"/>
<rect x="1352.3" y="295.2" width="22.40" height="77.30" class="t"/>
<polyline points="1431.4,567.6 1431.4,657.2 1413.2,657.2 1413.2,650.2 1424.3,650.2 1424.3,575" class="s"/>
<line x1="1431.4" y1="575" x2="1528.5" y2="575" class="s"/>
<polyline points="1352.2,657.2 1352.2,657.2 1376,657.2 1376,650.2 1344.8,650.2" class="s"/>
<path d="M1411.00,619.00 A33,33 0 0 0 1378.00,652.00" class="t"/>
<polygon points="1411.00,652.00 1411.00,619.00 1413.20,619.00 1413.20,652.00" class="t"/>
<rect x="1475.8" y="578" width="7.50" height="26.20" class="t"/>
<line x1="1475.8" y1="578" x2="1483.3" y2="604.2" class="t"/>
<line x1="1483.3" y1="578" x2="1475.8" y2="604.2" class="t"/>
<rect x="1345.4" y="850.4" width="7.40" height="110.50" class="m"/>
<path d="M1382.00,816.00 A35,35 0 0 1 1347.00,851.00" class="t"/>
<polygon points="1347.00,816.00 1382.00,816.00 1382.00,813.80 1347.00,813.80" class="t"/>
<line x1="1345.3" y1="814.6" x2="1345.3" y2="850.4" class="t"/>
<rect x="1352.8" y="881.8" width="21.80" height="77.60" class="t"/>
<rect x="1358.2" y="892.2" width="11.40" height="17.90" class="t"/>
<line x1="1358.2" y1="904" x2="1369.6" y2="904" class="t"/>
<circle cx="1363.6" cy="940.6" r="7.5" class="t"/>
<rect x="1258.2" y="506.6" width="122.30" height="8.50" class="f"/>
<rect x="1258.2" y="596" width="122.30" height="8.60" class="f"/>
<rect x="1258.2" y="585.5" width="8.20" height="19.10" class="f"/>
<rect x="1372.4" y="515.1" width="8.10" height="80.90" class="t"/>
<line x1="1372.4" y1="518.0" x2="1380.5" y2="518.0" class="t"/>
<line x1="1372.4" y1="525.2" x2="1380.5" y2="525.2" class="t"/>
<line x1="1372.4" y1="532.4" x2="1380.5" y2="532.4" class="t"/>
<line x1="1372.4" y1="539.6" x2="1380.5" y2="539.6" class="t"/>
<line x1="1372.4" y1="546.8" x2="1380.5" y2="546.8" class="t"/>
<line x1="1372.4" y1="554.0" x2="1380.5" y2="554.0" class="t"/>
<line x1="1372.4" y1="561.2" x2="1380.5" y2="561.2" class="t"/>
<line x1="1372.4" y1="568.4" x2="1380.5" y2="568.4" class="t"/>
<line x1="1372.4" y1="575.6" x2="1380.5" y2="575.6" class="t"/>
<line x1="1372.4" y1="582.8" x2="1380.5" y2="582.8" class="t"/>
<line x1="1372.4" y1="590.0" x2="1380.5" y2="590.0" class="t"/>
<rect x="1266.4" y="515.1" width="103.30" height="80.90" class="m"/>
<rect x="1268.5" y="517" width="99.50" height="77.00" class="t"/>
<path d="M1227.80,552.00 A37,37 0 0 0 1264.80,589.00" class="t"/>
<polygon points="1264.80,552.00 1227.80,552.00 1227.80,549.80 1264.80,549.80" class="t"/>
<ellipse cx="1351.5" cy="532.9" rx="10" ry="7.6" class="t"/>
<rect x="1361.8" y="525" width="7.20" height="16.00" class="t"/>
<line x1="1345" y1="532.9" x2="1369" y2="532.9" class="t"/>
<rect x="1267.5" y="521" width="12" height="16.5" rx="2" class="t"/>
<line x1="1268" y1="543.8" x2="1285" y2="543.8" class="t2"/>
<rect x="1353.3" y="571" width="11.5" height="18.5" rx="2" class="t"/>
<line x1="1351" y1="580" x2="1364" y2="580" class="t"/>
<line x1="1325" y1="516.5" x2="1364" y2="516.5" class="t2"/>
<line x1="1367.5" y1="522" x2="1367.5" y2="556" class="t2"/>
<circle cx="1170.5" cy="428.8" r="2.5" class="t"/>
<rect x="1173" y="427.6" width="11.80" height="2.30" class="t"/>
<rect x="1251.3" y="811.3" width="35.90" height="48.20" class="t"/>
<rect x="1252.5" y="812.5" width="33.50" height="45.80" class="t"/>
<rect x="1287.2" y="811.3" width="10.50" height="48.20" class="t"/>
<rect x="1288.6" y="816" width="7.70" height="36.70" class="t"/>
<line x1="1244.5" y1="810.9" x2="1305.4" y2="810.9" class="m"/>
<line x1="1244.5" y1="859.5" x2="1302.5" y2="859.5" class="t"/>
<line x1="1244.5" y1="863.6" x2="1302.5" y2="863.6" class="t"/>
<rect x="1251.3" y="797.3" width="35.90" height="13.60" class="t"/>
<path d="M1253.20,778.00 A33,33 0 0 1 1286.20,811.00" class="t"/>
<polygon points="1253.20,811.00 1253.20,778.00 1251.00,778.00 1251.00,811.00" class="t"/>
<path d="M1286.50,896.00 A35.5,35.5 0 0 1 1251.00,860.50" class="t"/>
<polygon points="1286.50,860.50 1286.50,896.00 1288.70,896.00 1288.70,860.50" class="t"/>
<rect x="1282.2" y="813.6" width="3.6" height="43.6" fill="#b9dae3"/>
<line x1="1248" y1="811" x2="1248" y2="859.5" class="t"/>
<text x="1397.00" y="134.8" textLength="84.50" lengthAdjust="spacingAndGlyphs" class="b18">PLANTER</text>
<text x="1361.20" y="206" textLength="68.00" lengthAdjust="spacingAndGlyphs" class="b24">POOL</text>
<text x="1344.50" y="237.1" textLength="115.10" lengthAdjust="spacingAndGlyphs" class="b24">CABANA 1</text>
<text x="1365.50" y="260.8" textLength="64.80" lengthAdjust="spacingAndGlyphs" class="r17">297 SF.</text>
<text x="1373.10" y="282.1" textLength="47.00" lengthAdjust="spacingAndGlyphs" class="r17">27 m²</text>
<text x="1514.00" y="332.3" textLength="67.40" lengthAdjust="spacingAndGlyphs" class="b24">POOL</text>
<text x="1496.60" y="362.7" textLength="121.00" lengthAdjust="spacingAndGlyphs" class="b24">CABANA 2</text>
<text x="1526.80" y="385.4" textLength="64.20" lengthAdjust="spacingAndGlyphs" class="r17">355 SF.</text>
<text x="1535.00" y="406.8" textLength="46.40" lengthAdjust="spacingAndGlyphs" class="r17">32 m²</text>
<text x="1514.00" y="495.2" textLength="67.40" lengthAdjust="spacingAndGlyphs" class="b24">POOL</text>
<text x="1496.60" y="525.2" textLength="121.00" lengthAdjust="spacingAndGlyphs" class="b24">CABANA 3</text>
<text x="1526.80" y="547.4" textLength="64.20" lengthAdjust="spacingAndGlyphs" class="r17">326 SF.</text>
<text x="1535.00" y="568.8" textLength="46.40" lengthAdjust="spacingAndGlyphs" class="r17">30 m²</text>
<text x="1387.80" y="869.3" textLength="67.80" lengthAdjust="spacingAndGlyphs" class="b24">POOL</text>
<text x="1371.50" y="900.3" textLength="121.00" lengthAdjust="spacingAndGlyphs" class="b24">CABANA 4</text>
<text x="1400.50" y="919.1" textLength="63.60" lengthAdjust="spacingAndGlyphs" class="r17">203 SF.</text>
<text x="1407.80" y="940" textLength="47.10" lengthAdjust="spacingAndGlyphs" class="r17">18 m²</text>
<text x="1384.80" y="1032.5" textLength="69.50" lengthAdjust="spacingAndGlyphs" class="b24">POOL</text>
<text x="1368.80" y="1062.4" textLength="118.80" lengthAdjust="spacingAndGlyphs" class="b24">CABANA 5</text>
<text x="1392.00" y="1081.8" textLength="63.30" lengthAdjust="spacingAndGlyphs" class="r17">203 SF.</text>
<text x="1399.60" y="1103.1" textLength="45.60" lengthAdjust="spacingAndGlyphs" class="r17">18 m²</text>
<text x="1385.80" y="1186.8" textLength="69.00" lengthAdjust="spacingAndGlyphs" class="b24">POOL</text>
<text x="1369.20" y="1217.6" textLength="120.80" lengthAdjust="spacingAndGlyphs" class="b24">CABANA 6</text>
<text x="1394.40" y="1239.4" textLength="64.00" lengthAdjust="spacingAndGlyphs" class="r17">203 SF.</text>
<text x="1402.00" y="1261.2" textLength="46.30" lengthAdjust="spacingAndGlyphs" class="r17">18 m²</text>
<text x="1389.20" y="1334" textLength="68.20" lengthAdjust="spacingAndGlyphs" class="b24">POOL</text>
<text x="1371.60" y="1364" textLength="123.10" lengthAdjust="spacingAndGlyphs" class="b24">CABANA 7</text>
<text x="1402.30" y="1391.2" textLength="64.20" lengthAdjust="spacingAndGlyphs" class="r17">217 SF.</text>
<text x="1409.90" y="1413" textLength="47.00" lengthAdjust="spacingAndGlyphs" class="r17">20 m²</text>
<text x="1432.90" y="764.8" textLength="32.70" lengthAdjust="spacingAndGlyphs" class="l18">M.E.</text>
<text x="1294.40" y="565.1" textLength="48.80" lengthAdjust="spacingAndGlyphs" class="l18">BATH</text>
<text transform="translate(1524.2,1071) rotate(90)" x="0" y="0" textLength="83" lengthAdjust="spacingAndGlyphs" class="b195">PLANTER</text>
<rect x="1352.7" y="1190.9" width="21.80" height="76.80" class="t"/>
</svg>
</body></html>
